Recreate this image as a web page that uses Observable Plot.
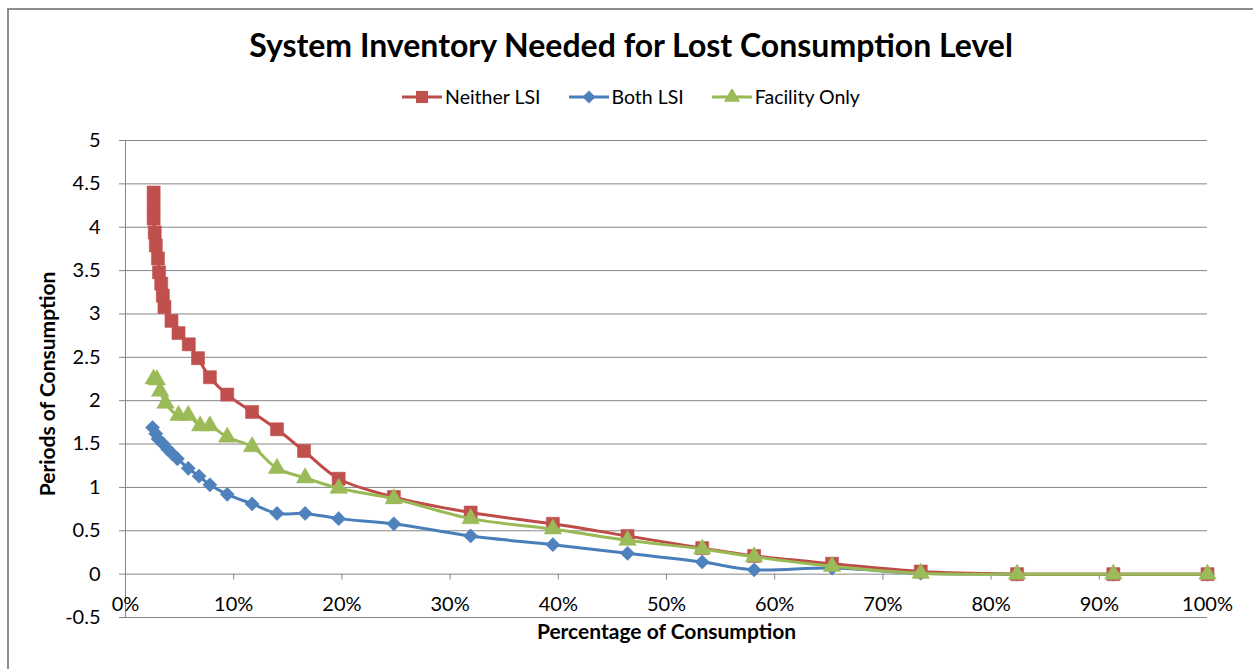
<!DOCTYPE html>
<html>
<head>
<meta charset="utf-8">
<script src="https://cdn.jsdelivr.net/npm/d3@7"></script>
<script src="https://cdn.jsdelivr.net/npm/@observablehq/plot@0.6"></script>
<style>
  body { margin: 0; background: #fff; font-family: Lato, "Open Sans", sans-serif; }
  #wrap { position: relative; width: 1253px; height: 669px; overflow: hidden; background: #fff; }
  #frame { position: absolute; left: 7px; top: 8px; width: 1300px; height: 700px; border: 2px solid #8c8c8c; box-sizing: border-box; }
  #title { position: absolute; left: 0; top: 25px; width: 1262px; text-align: center; font-weight: bold; font-size: 32px; color: #000; }
  #legend { position: absolute; left: 0; top: 85px; width: 1262px; display: flex; justify-content: center; font-size: 19.5px; color: #000; }
  .item { display: flex; align-items: center; margin: 0 14px; }
  .item svg { margin-right: 3px; }
  #chart { position: absolute; left: 0; top: 115px; }
</style>
</head>
<body>
<div id="wrap">
  <div id="frame"></div>
  <div id="title"></div>
  <div id="legend"></div>
  <div id="chart"></div>
</div>
<script>
// ---- data ----
const seriesNames = ["Neither LSI", "Both LSI", "Facility Only"];
const neitherX = [2.6, 2.6, 2.6, 2.7, 2.8, 3.0, 3.1, 3.3, 3.45, 3.6, 4.25, 4.9, 5.85, 6.7, 7.8, 9.4, 11.7, 14.0, 16.5, 19.7, 24.8, 31.9, 39.5, 46.4, 53.3, 58.1, 65.3, 73.5, 82.4, 91.3, 100];
const neitherY = [4.40, 4.25, 4.10, 3.94, 3.79, 3.64, 3.48, 3.35, 3.21, 3.08, 2.92, 2.78, 2.65, 2.49, 2.27, 2.07, 1.87, 1.67, 1.42, 1.10, 0.89, 0.71, 0.58, 0.44, 0.30, 0.21, 0.12, 0.03, 0, 0, 0];
const bothX = [2.5, 2.8, 3.0, 3.5, 3.9, 4.3, 4.8, 5.8, 6.8, 7.8, 9.4, 11.7, 14.0, 16.6, 19.7, 24.8, 31.9, 39.5, 46.4, 53.3, 58.1, 65.3, 73.5, 82.4, 91.3, 100];
const bothY = [1.69, 1.62, 1.56, 1.50, 1.44, 1.39, 1.33, 1.22, 1.13, 1.03, 0.92, 0.81, 0.70, 0.70, 0.64, 0.58, 0.44, 0.34, 0.24, 0.14, 0.05, 0.07, 0.01, 0, 0, 0];
const facilityX = [2.6, 2.9, 3.2, 3.7, 4.9, 5.8, 6.9, 7.8, 9.4, 11.7, 14.0, 16.6, 19.7, 24.8, 31.9, 39.5, 46.4, 53.3, 58.1, 65.3, 73.5, 82.4, 91.3, 100];
const facilityY = [2.25, 2.24, 2.11, 1.97, 1.83, 1.83, 1.71, 1.71, 1.58, 1.47, 1.22, 1.11, 0.99, 0.87, 0.64, 0.52, 0.39, 0.29, 0.20, 0.09, 0.01, 0, 0, 0];
const xTicks = [0, 10, 20, 30, 40, 50, 60, 70, 80, 90, 100];
const yTicks = [-0.5, 0, 0.5, 1, 1.5, 2, 2.5, 3, 3.5, 4, 4.5, 5];
const titleText = "System Inventory Needed for Lost Consumption Level";
const xLabel = "Percentage of Consumption";
const yLabel = "Periods of Consumption";

// ---- styles ----
const styles = {
  "Neither LSI":   {line: "#BE4B48", fill: "#C0504D", symbol: "square",   r: 7.4},
  "Both LSI":      {line: "#4A7EBB", fill: "#4F81BD", symbol: "diamond2", r: 6.4},
  "Facility Only": {line: "#98B954", fill: "#9BBB59", symbol: "triangle", r: 6.5}
};

const toRows = (name, xs, ys) => xs.map((x, i) => ({series: name, x, y: ys[i]}));
const data = {
  "Neither LSI": toRows("Neither LSI", neitherX, neitherY),
  "Both LSI": toRows("Both LSI", bothX, bothY),
  "Facility Only": toRows("Facility Only", facilityX, facilityY)
};

document.getElementById("title").textContent = titleText;

// legend
const legend = document.getElementById("legend");
const symMap = {square: d3.symbolSquare, diamond2: d3.symbolDiamond2, triangle: d3.symbolTriangle};
for (const name of seriesNames) {
  const s = styles[name];
  const item = document.createElement("div");
  item.className = "item";
  const sw = d3.create("svg").attr("width", 40).attr("height", 16);
  sw.append("line").attr("x1", 0).attr("x2", 40).attr("y1", 8).attr("y2", 8)
    .attr("stroke", s.line).attr("stroke-width", 3);
  sw.append("path").attr("transform", "translate(20,8)")
    .attr("d", d3.symbol(symMap[s.symbol], Math.PI * s.r * s.r * 0.85)())
    .attr("fill", s.fill);
  item.appendChild(sw.node());
  const label = document.createElement("span");
  label.textContent = name;
  item.appendChild(label);
  legend.appendChild(item);
}

// draw order: Both (bottom), Neither, Facility (top)
const drawOrder = ["Both LSI", "Neither LSI", "Facility Only"];
const seriesMarks = drawOrder.flatMap(name => {
  const s = styles[name];
  return [
    Plot.line(data[name], {x: "x", y: "y", stroke: s.line, strokeWidth: 3, curve: "catmull-rom"}),
    Plot.dot(data[name], {x: "x", y: "y", symbol: () => s.symbol, r: s.r, fill: s.fill, stroke: s.fill, strokeWidth: 0.5})
  ];
});

const chart = Plot.plot({
  width: 1253,
  height: 554,
  marginLeft: 125,
  marginRight: 46,
  marginTop: 25,
  marginBottom: 52,
  style: {fontFamily: "Lato, 'Open Sans', sans-serif", fontSize: "20px", color: "#000", background: "transparent"},
  x: {domain: [0, 100], axis: null},
  y: {domain: [-0.5, 5], axis: null},
  symbol: {type: "identity"},
  marks: [
    Plot.gridY(yTicks, {stroke: "#868686", strokeOpacity: 1, strokeWidth: 1}),
    Plot.ruleX([0], {stroke: "#868686", strokeWidth: 1}),
    Plot.axisY(yTicks, {anchor: "left", label: null, tickSize: 6, tickPadding: 19, stroke: "#868686", strokeOpacity: 1,
      tickFormat: d => String(+d.toFixed(1)), fontSize: 20}),
    Plot.ruleX(xTicks, {x: d => d, y1: 0, y2: 0, insetBottom: -6, stroke: "#868686"}),
    Plot.text(xTicks, {x: d => d, y: 0, text: d => d + "%", dy: 30, fontSize: 20}),
    Plot.text([xLabel], {frameAnchor: "bottom", dy: 21, fontWeight: "bold", fontSize: 21}),
    Plot.text([yLabel], {frameAnchor: "left", textAnchor: "middle", dx: -77, dy: 5, rotate: -90, fontWeight: "bold", fontSize: 21}),
    ...seriesMarks
  ]
});
document.getElementById("chart").appendChild(chart);
</script>
</body>
</html>
